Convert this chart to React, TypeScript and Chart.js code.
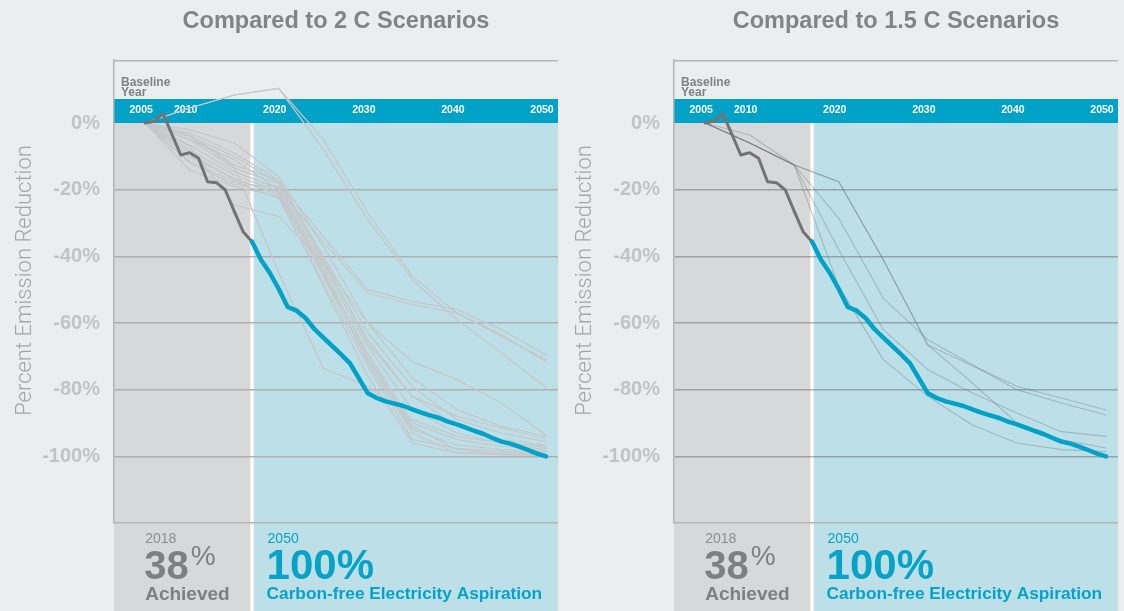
import React, { useEffect, useRef } from 'react';
import { Chart, registerables } from 'chart.js';

Chart.register(...registerables);

// ---------------- data ----------------
const scenarioYears = [2005, 2010, 2015, 2020, 2025, 2030, 2035, 2040, 2045, 2050];

const achievedYears = [2005, 2006, 2007, 2009, 2010, 2011, 2012, 2013, 2014, 2015, 2016, 2017];
const achievedReduction = [0, 0.5, 2.8, -9.6, -8.9, -10.6, -17.6, -17.9, -20.1, -26.5, -32.6, -35.6];

const aspirationYears = [
  2017, 2018, 2019, 2020, 2021, 2022, 2023, 2024, 2025, 2026, 2027, 2028, 2029, 2030, 2031, 2032, 2033,
  2034, 2035, 2036, 2037, 2038, 2039, 2040, 2041, 2042, 2043, 2044, 2045, 2046, 2047, 2048, 2049, 2050,
];
const aspirationReduction = [
  -35.6, -41.0, -45.0, -49.8, -55.2, -56.3, -58.5, -61.8, -64.4, -66.9, -69.4, -72.1, -76.6, -81.1, -82.5,
  -83.5, -84.2, -84.9, -85.9, -86.9, -87.7, -88.5, -89.6, -90.4, -91.4, -92.4, -93.3, -94.5, -95.6, -96.2,
  -97.1, -98.1, -99.2, -100,
];

const twoDegreeScenarios = [
  [0, 4.5, 8.4, 10.4, -8, -29, -47, -59, -69, -79.3],
  [0, 4.5, 8.4, 10.4, -5, -27, -46, -57, -63.5, -71.6],
  [0, -4, -10, -18, -34, -50, -53.5, -56, -62, -69.6],
  [0, -5, -11, -20, -35.5, -51, -54.5, -57, -64, -71],
  [0, -2, -6, -16.1, -37, -60, -76.5, -86, -91, -94],
  [0, -3.6, -12.6, -17.1, -40, -63, -79, -89, -93, -95.6],
  [0, -5.1, -13.6, -18.1, -42, -65, -82, -91, -95, -96.6],
  [0, -6.6, -14.6, -19.6, -43, -67, -86, -93, -96, -97.1],
  [0, -8.1, -15.6, -20.6, -45, -69, -90, -95, -97, -97.6],
  [0, -10.1, -16.6, -21.6, -46, -71, -92, -96.6, -98, -98.1],
  [0, -11.6, -17.6, -22.6, -48, -73, -95, -97.6, -98.5, -98.6],
  [0, -14.1, -19.1, -22, -49, -76, -96, -99, -99, -99.1],
  [0, -3, -9, -17.1, -41, -66, -82, -88, -91.5, -94.8],
  [0, -4, -13, -45, -73.6, -79, -89, -94, -96, -97],
  [0, -7, -24.6, -28, -42, -60, -71.6, -77, -84, -93.6],
  [0, -9, -17, -21, -44, -70, -91, -98, -99.3, -99.6],
  [0, -12, -18.5, -19, -45, -72, -93, -99, -99.5, -99.8],
];

const onePointFiveScenarios = [
  [0, -3.6, -12.6, -17.6, -41, -66.6, -72.8, -79, -82.5, -86.1],
  [0, -6, -12.6, -28.6, -52.6, -65, -72.5, -80, -84, -87.6],
  [0, -6, -12.6, -38, -62, -74, -81, -87, -92.6, -94],
  [0, -6, -12.6, -49, -71, -82, -90.6, -96, -98, -98.6],
  [0, -6, -12.6, -17.6, -41, -66.6, -78, -90, -95, -97.5],
];

const xTickYears = [2005, 2010, 2020, 2030, 2040, 2050];
const yTickValues = [-120, -100, -80, -60, -40, -20, 0];

const chartTitles = ['Compared to 2 C Scenarios', 'Compared to 1.5 C Scenarios'];
const yAxisTitle = 'Percent Emission Reduction';
const baselineLabel = ['Baseline', 'Year'];
const achievedYearLabel = '2018';
const achievedValueLabel = '38';
const achievedText = 'Achieved';
const aspirationYearLabel = '2050';
const aspirationValueLabel = '100%';
const aspirationText = 'Carbon-free Electricity Aspiration';

// ---------------- layout / style ----------------
const X_MIN = 2001.5;
const X_MAX = 2051.35;
const Y_MIN = -120;
const Y_MAX = 18.9;
const BAND_TOP = 7.2;
const ACHIEVED_END = 2017;
const TEXT_START_YEAR = 2005;

const PAGE_BG = '#ECEDEF';
const ACHIEVED_BG = '#D7D8DA';
const ASPIRATION_BG = '#BDE0E8';
const BAND = '#00A3C7';
const BLUE = '#00A3C7';
const BLUE_TEXT = '#06A2C7';
const FRAME = '#B3B5B8';
const ACHIEVED_LINE = '#717376';
const GRAY_TEXT = '#7D7F82';

const SANS = "'Liberation Sans', Arial, sans-serif";
const LIGHT = "Roboto, 'Liberation Sans', sans-serif";

const CANVAS_W = 560;
const CANVAS_H = 611;

const toPoints = (xs: number[], ys: number[]) => xs.map((x, i) => ({ x, y: ys[i] }));

const decorPlugin = {
  id: 'decor',
  beforeDraw(chart: any, _args: any, opts: any) {
    const { ctx, chartArea: a } = chart;
    const x = chart.scales.x;
    const y = chart.scales.y;
    const W = chart.width;
    const H = chart.height;
    const zeroY = y.getPixelForValue(0);
    const bandTopY = y.getPixelForValue(BAND_TOP);
    const sepX = x.getPixelForValue(ACHIEVED_END);
    ctx.save();
    ctx.fillStyle = PAGE_BG;
    ctx.fillRect(0, 0, W, H);
    // regions
    ctx.fillStyle = ACHIEVED_BG;
    ctx.fillRect(a.left, zeroY, sepX - 1.5 - a.left, H - zeroY);
    ctx.fillStyle = ASPIRATION_BG;
    ctx.fillRect(sepX + 1.5, zeroY, a.right - sepX - 1.5, H - zeroY);
    ctx.fillStyle = '#FFFFFF';
    ctx.fillRect(sepX - 1.5, zeroY, 3, H - zeroY);
    // band
    ctx.fillStyle = BAND;
    ctx.fillRect(a.left, bandTopY, a.right - a.left, zeroY - bandTopY);
    // top frame
    ctx.strokeStyle = FRAME;
    ctx.lineWidth = 1.5;
    ctx.beginPath();
    ctx.moveTo(a.left, a.top + 0.75);
    ctx.lineTo(a.right, a.top + 0.75);
    ctx.stroke();

    // title
    ctx.fillStyle = '#818386';
    ctx.font = `bold 23.5px ${SANS}`;
    ctx.textAlign = 'center';
    ctx.textBaseline = 'alphabetic';
    ctx.fillText(opts.title, (a.left + a.right) / 2, 28);

    // y title
    ctx.save();
    ctx.translate(31, 280.5);
    ctx.rotate(-Math.PI / 2);
    ctx.fillStyle = '#A3A5A8';
    ctx.font = `300 22px ${LIGHT}`;
    ctx.textAlign = 'center';
    ctx.fillText(yAxisTitle, 0, 0);
    ctx.restore();

    // baseline year
    ctx.fillStyle = '#808285';
    ctx.font = `bold 12px ${SANS}`;
    ctx.textAlign = 'left';
    ctx.fillText(baselineLabel[0], a.left + 7, bandTopY - 13.5);
    ctx.fillText(baselineLabel[1], a.left + 7, bandTopY - 3);

    // bottom annotations
    const b = a.bottom;
    const gx = x.getPixelForValue(TEXT_START_YEAR) - 1;
    ctx.fillStyle = '#8C8E91';
    ctx.font = `14px ${SANS}`;
    ctx.fillText(achievedYearLabel, gx + 1, b + 20);
    ctx.fillStyle = GRAY_TEXT;
    ctx.font = `bold 40px ${SANS}`;
    ctx.fillText(achievedValueLabel, gx, b + 56);
    const w = ctx.measureText(achievedValueLabel).width;
    ctx.font = `28px ${SANS}`;
    ctx.fillText('%', gx + w + 2, b + 42);
    ctx.font = `bold 19px ${SANS}`;
    ctx.fillText(achievedText, gx + 1, b + 76.5);

    const bx = sepX + 14.5;
    ctx.fillStyle = BLUE_TEXT;
    ctx.font = `14px ${SANS}`;
    ctx.fillText(aspirationYearLabel, bx + 1, b + 20);
    ctx.font = `bold 42px ${SANS}`;
    ctx.fillText(aspirationValueLabel, bx, b + 56);
    ctx.font = `bold 17.3px ${SANS}`;
    ctx.fillText(aspirationText, bx, b + 76);
    ctx.restore();
  },
};

type Props = {
  title: string;
  scenarios: number[][];
  scenarioColor: string;
  scenarioWidth: number;
  gridColor: string;
  left: number;
};

function ScenarioChart({ title, scenarios, scenarioColor, scenarioWidth, gridColor, left }: Props) {
  const ref = useRef<HTMLCanvasElement>(null);
  useEffect(() => {
    const canvas = ref.current;
    if (!canvas) return;
    const datasets: any[] = [
      {
        data: toPoints(aspirationYears, aspirationReduction),
        borderColor: BLUE,
        borderWidth: 4.5,
        order: 0,
      },
      {
        data: toPoints(achievedYears, achievedReduction),
        borderColor: ACHIEVED_LINE,
        borderWidth: 3,
        order: 1,
      },
      ...scenarios.map((vals) => ({
        data: toPoints(scenarioYears, vals),
        borderColor: scenarioColor,
        borderWidth: scenarioWidth,
        order: 2,
      })),
    ];
    const chart = new Chart(canvas, {
      type: 'line',
      data: { datasets },
      plugins: [decorPlugin as any],
      options: {
        responsive: false,
        animation: false,
        devicePixelRatio: 1,
        layout: { padding: { top: 60, bottom: CANVAS_H - 523, left: 0, right: CANVAS_W - 558 } },
        elements: {
          point: { radius: 0, hoverRadius: 0 },
          line: { tension: 0, fill: false, borderJoinStyle: 'round', borderCapStyle: 'round' },
        },
        plugins: {
          legend: { display: false },
          title: { display: false },
          tooltip: { enabled: false },
          decor: { title },
        } as any,
        scales: {
          x: {
            type: 'linear',
            axis: 'x',
            position: { y: BAND_TOP },
            min: X_MIN,
            max: X_MAX,
            afterBuildTicks: (s: any) => {
              s.ticks = xTickYears.map((v) => ({ value: v }));
            },
            afterFit: (s: any) => {
              s.paddingLeft = 0;
              s.paddingRight = 0;
            },
            grid: { display: false, drawTicks: false },
            border: { display: false },
            ticks: {
              color: '#FFFFFF',
              font: { family: SANS, size: 10.5, weight: 'bold' },
              padding: 5,
              labelOffset: -4,
              autoSkip: false,
              maxRotation: 0,
              callback: (v: any) => String(v),
            },
          } as any,
          y: {
            type: 'linear',
            min: Y_MIN,
            max: Y_MAX,
            afterBuildTicks: (s: any) => {
              s.ticks = yTickValues.map((v) => ({ value: v }));
            },
            afterFit: (s: any) => {
              s.width = 114;
              s.paddingTop = 0;
              s.paddingBottom = 0;
            },
            grid: {
              drawTicks: false,
              color: (c: any) =>
                c.tick && c.tick.value === Y_MIN ? FRAME : c.tick && c.tick.value === 0 ? 'rgba(0,0,0,0)' : gridColor,
              lineWidth: 1.5,
            },
            border: { display: true, color: FRAME, width: 1.5 },
            ticks: {
              color: '#C2C3C6',
              font: { family: SANS, size: 20, weight: 'bold' },
              padding: 14,
              callback: (v: any) => (v === Y_MIN ? '' : `${v}%`),
            },
          } as any,
        },
      },
    });
    return () => chart.destroy();
  }, [title, scenarios, scenarioColor, scenarioWidth, gridColor]);
  return (
    <canvas
      ref={ref}
      width={CANVAS_W}
      height={CANVAS_H}
      style={{ position: 'absolute', left, top: 0, width: CANVAS_W, height: CANVAS_H, display: 'block' }}
    />
  );
}

export default function App() {
  return (
    <div
      style={{
        position: 'fixed',
        left: 0,
        top: 0,
        width: 1124,
        height: 611,
        background: PAGE_BG,
        overflow: 'hidden',
      }}
    >
      <ScenarioChart
        title={chartTitles[0]}
        scenarios={twoDegreeScenarios}
        scenarioColor="#C6C7C9"
        scenarioWidth={1.25}
        gridColor="#ACAFB3"
        left={0}
      />
      <ScenarioChart
        title={chartTitles[1]}
        scenarios={onePointFiveScenarios}
        scenarioColor="rgba(100,110,116,0.34)"
        scenarioWidth={1.15}
        gridColor="rgba(100,108,114,0.5)"
        left={560}
      />
    </div>
  );
}
